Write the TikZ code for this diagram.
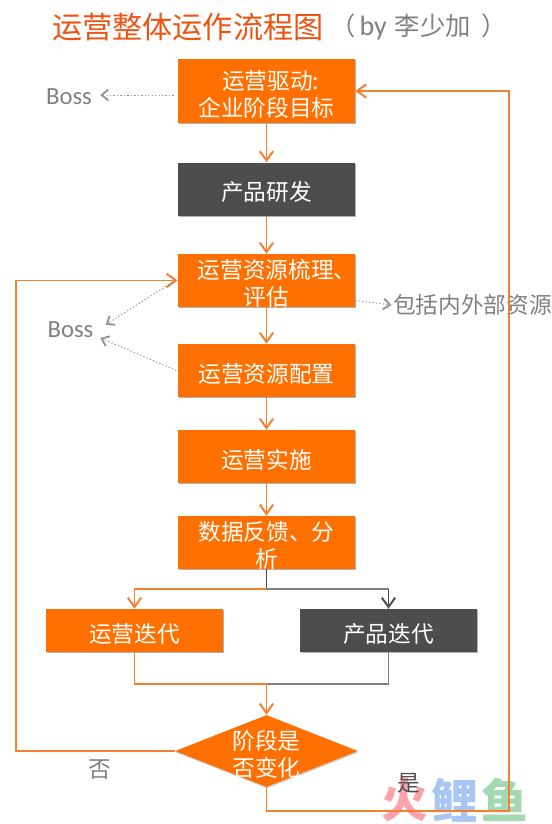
\documentclass[tikz,border=0pt]{standalone}
\usepackage{fontspec}
\setmainfont{Noto Sans CJK SC}
\newfontfamily\latinfont{Carlito}
\usetikzlibrary{positioning,arrows.meta,shapes.geometric,shadows}
\definecolor{boxorange}{HTML}{FF7000}
\definecolor{boxdark}{HTML}{4D4D4D}
\definecolor{lineorange}{HTML}{F2802E}
\definecolor{titlered}{HTML}{F0520F}
\definecolor{notegray}{HTML}{808080}
\definecolor{wmpink}{HTML}{FBA3AB}
\definecolor{wmblue}{HTML}{A8C6F5}
\definecolor{wmgreen}{HTML}{A3D9B0}
\newcommand{\nosize}[1]{\smash{\makebox[0pt]{\raisebox{-9pt}[0pt][0pt]{\begin{tabular}{@{}c@{}}#1\end{tabular}}}}}

\begin{document}
\begin{tikzpicture}[
    x=0.75pt, y=-0.75pt,
    font=\fontsize{17pt}{20pt}\selectfont,
    flowbox/.style={rectangle, fill=boxorange, text=white, inner sep=0pt,
                    minimum width=132.75pt, minimum height=39.75pt,
                    drop shadow={shadow xshift=0.4pt, shadow yshift=-1pt, fill=black, opacity=.3}},
    darkbox/.style={flowbox, fill=boxdark},
    decide/.style={diamond, fill=boxorange, text=white, inner sep=0pt, aspect=2.54,
                   minimum width=137pt, minimum height=54pt,
                   drop shadow={shadow xshift=0.4pt, shadow yshift=-1pt, fill=black, opacity=.2}},
    note/.style={text=notegray, inner sep=0pt},
    boss/.style={note, font=\latinfont\fontsize{18.5pt}{20pt}\selectfont},
    wmark/.style={inner sep=0pt, font=\fontsize{35pt}{35pt}\selectfont\bfseries},
    ar/.style={-{Straight Barb[length=7pt,width=10pt,line width=1.5pt]}, lineorange, line width=1.4pt},
    ardark/.style={ar, boxdark},
    arthin/.style={ar, line width=1pt},
    lnorange/.style={lineorange, line width=1pt},
    lndark/.style={notegray, line width=1pt},
    dots/.style={-{Straight Barb[length=5pt,width=8pt,line width=1.4pt]}, notegray!85,
                 line width=0.7pt, dash pattern=on 1pt off 1.6pt},
]
\useasboundingbox (0,0) rectangle (551,824);
% --- watermark, under the lines ---
\node[wmark, text=wmpink] (wmfire) at (405,800) {火};
\node[wmark, text=wmblue] (wmcarp) at (455,800) {鲤};
\node[wmark, text=wmgreen] (wmfish) at (505,800) {鱼};
% --- title ---
\node[anchor=west, inner sep=0pt, text=titlered, font=\fontsize{22.6pt}{24pt}\selectfont] (title) at (52,27) {运营整体运作流程图};
\node[anchor=west, inner sep=0pt, text=notegray, font=\fontsize{19pt}{22pt}\selectfont] (byline) at (330,27)
  {（\hspace{3pt}{\latinfont\fontsize{21pt}{22pt}\selectfont by}\hspace{6pt}李少加\hspace{8pt}）};
% --- the flow ---
\node[flowbox, minimum height=48pt] (drive) at (266.5,91) {\nosize{\hspace*{6pt}运营驱动:\\企业阶段目标}};
\node[darkbox] (product) at (266.5,189) {\nosize{产品研发}};
\node[flowbox] (resource) at (266.5,280.5) {\nosize{\hspace*{16pt}运营资源梳理、\\评估}};
\node[flowbox] (config) at (266.5,370.5) {\nosize{运营资源配置}};
\node[flowbox] (impl) at (266.5,456.5) {\nosize{运营实施}};
\node[flowbox] (data) at (266.5,542.5) {\nosize{数据反馈、分\\析}};
\node[flowbox, minimum height=32.25pt] (opiter) at (134.5,630.5) {\nosize{运营迭代}};
\node[darkbox, minimum height=32.25pt] (proditer) at (388.5,630.5) {\nosize{产品迭代}};
\node[decide] (change) at (266.5,751) {\nosize{阶段是\\否变化}};
% --- free corners ---
\coordinate (split) at (266.5,589);
\coordinate (merge) at (266.5,684);
\coordinate (loopleft) at (16,280.5);
\coordinate (loopright) at (509,811);
% --- notes ---
\node[boss] (bosstop) at (69,97) {Boss};
\node[boss] (bossmid) at (70.5,330) {Boss};
\node[note, anchor=west] (inside) at (393,305) {包括内外部资源};
\node[note] (no) at (100,770) {否};
\node[note, text=boxdark] (yes) at (409,783) {是};
% --- connectors ---
\foreach \from/\to in {drive/product, product/resource, resource/config, config/impl, impl/data}{
  \draw[ar] (\from.south) -- (\to.north);}
\draw[boxdark, line width=1.4pt] (data.south) -- (split);
\draw[lndark] (split) -| (proditer.north);
\draw[ardark] ([yshift=14pt]proditer.north) -- (proditer.north);
\draw[arthin] (split) -| (opiter.north);
\draw[lndark] (proditer.south) |- (merge);
\draw[lnorange] (opiter.south) |- (merge);
\draw[ar] (merge) -- (change.north);
\draw[arthin] (change.west) -| (loopleft) -- (resource.west);
\draw[arthin] (change.south) |- (loopright) |- (drive.east);
% --- dotted notes ---
\draw[dots] ([xshift=-3pt,yshift=-3pt]drive.west) -- ([xshift=6pt,yshift=1.5pt]bosstop.east);
\draw[dots] ([xshift=-2pt]resource.west) -- ([xshift=9pt,yshift=4pt]bossmid.east);
\draw[dots] ([xshift=-1pt]config.west) -- ([xshift=5pt,yshift=-6pt]bossmid.east);
\draw[dots] ([yshift=-15pt]resource.east) -- ([xshift=-1pt]inside.west);
\end{tikzpicture}
\end{document}
